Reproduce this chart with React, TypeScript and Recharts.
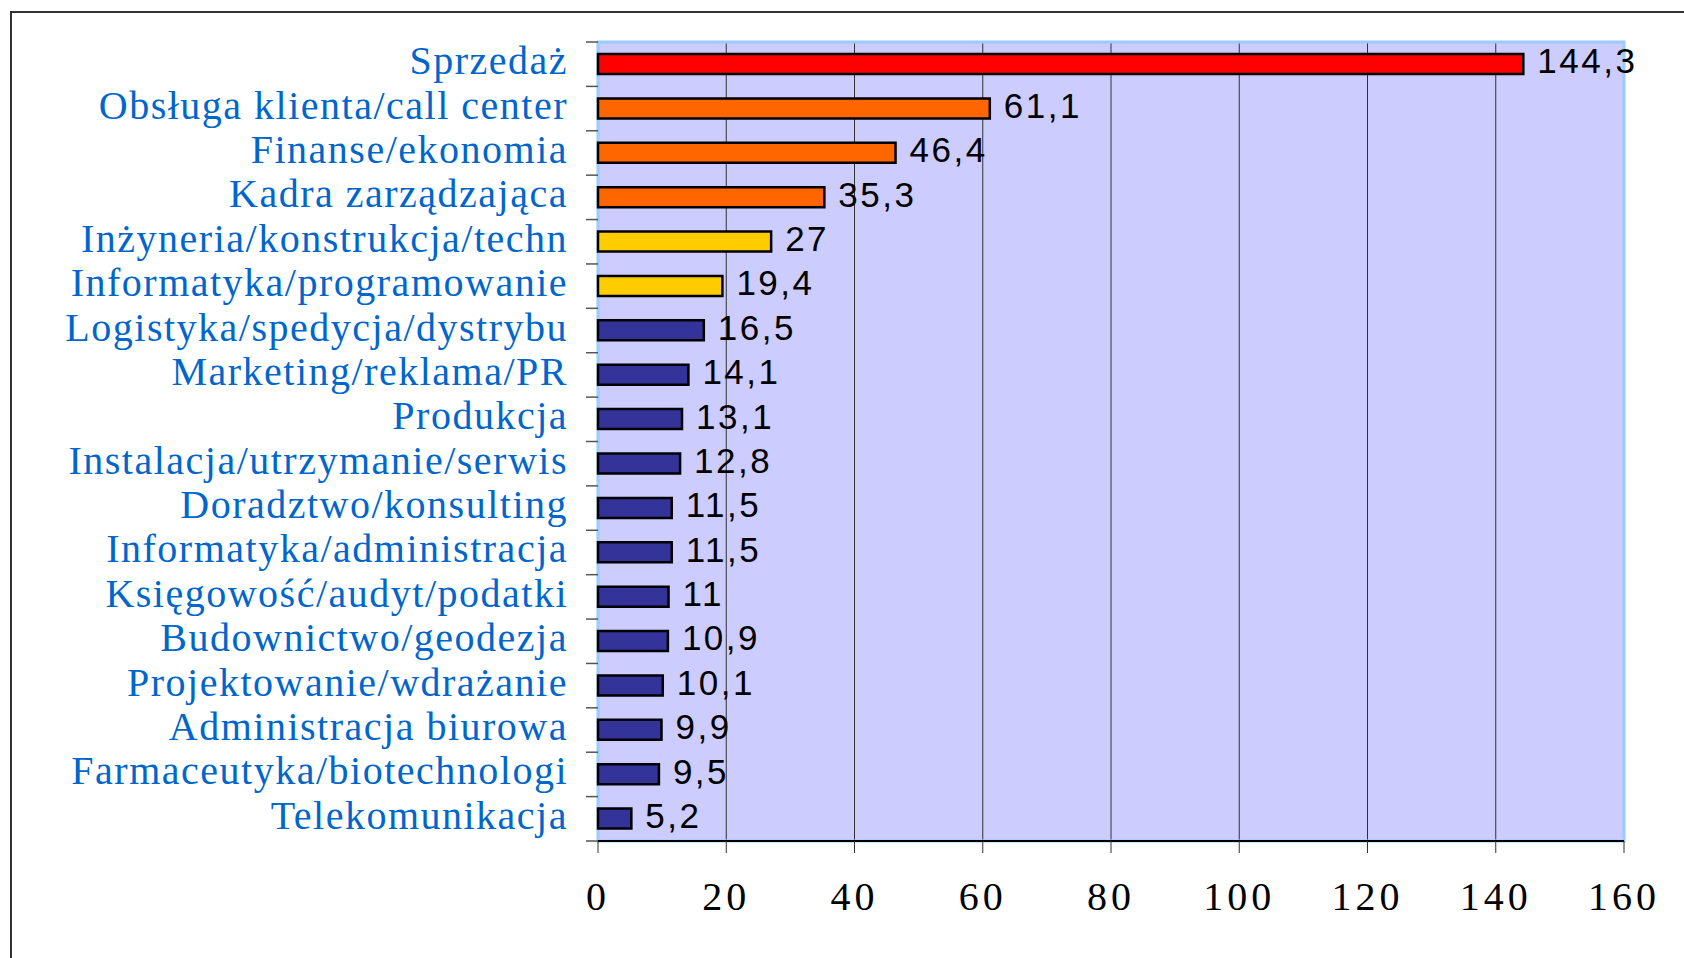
import { BarChart, Bar, XAxis, YAxis, CartesianGrid, Cell, LabelList, ReferenceArea } from 'recharts'

const categories = [
  'Sprzedaż',
  'Obsługa klienta/call center',
  'Finanse/ekonomia',
  'Kadra zarządzająca',
  'Inżyneria/konstrukcja/techn',
  'Informatyka/programowanie',
  'Logistyka/spedycja/dystrybu',
  'Marketing/reklama/PR',
  'Produkcja',
  'Instalacja/utrzymanie/serwis',
  'Doradztwo/konsulting',
  'Informatyka/administracja',
  'Księgowość/audyt/podatki',
  'Budownictwo/geodezja',
  'Projektowanie/wdrażanie',
  'Administracja biurowa',
  'Farmaceutyka/biotechnologi',
  'Telekomunikacja',
]

const values = [144.3, 61.1, 46.4, 35.3, 27, 19.4, 16.5, 14.1, 13.1, 12.8, 11.5, 11.5, 11, 10.9, 10.1, 9.9, 9.5, 5.2]

const xTicks = [0, 20, 40, 60, 80, 100, 120, 140, 160]

// colour groups: top one red, next three orange, two yellow, rest navy
const barColors = [
  '#ff0000',
  '#ff6600', '#ff6600', '#ff6600',
  '#ffcc00', '#ffcc00',
  '#333399', '#333399', '#333399', '#333399', '#333399', '#333399',
  '#333399', '#333399', '#333399', '#333399', '#333399', '#333399',
]

const W = 1684
const H = 958
const YAXIS_W = 598
const TOP = 42
const PLOT_BOTTOM = 841
const BAND = (PLOT_BOTTOM - TOP) / categories.length
const SERIF = "'Liberation Serif', 'Times New Roman', serif"

const data = categories.map((name, i) => ({ name, value: values[i] }))

const fmt = (v: any) => String(v).replace('.', ',')

function CategoryTick(props: any) {
  const { x, y, payload, index } = props
  return (
    <g>
      <line x1={YAXIS_W - 12} x2={YAXIS_W} y1={y - BAND / 2} y2={y - BAND / 2} stroke="#555" strokeWidth={1.5} />
      {index === categories.length - 1 && (
        <line x1={YAXIS_W - 12} x2={YAXIS_W} y1={y + BAND / 2} y2={y + BAND / 2} stroke="#555" strokeWidth={1.5} />
      )}
      <text
        x={x}
        y={y}
        dy={10}
        textAnchor="end"
        fill="#0066cc"
        fontFamily={SERIF}
        fontSize={40}
        letterSpacing={1.5}
      >
        {payload.value}
      </text>
    </g>
  )
}

export default function App() {
  return (
    <div style={{ position: 'absolute', left: 0, top: 0, width: W, height: H, background: '#fff', overflow: 'hidden' }}>
      <div
        style={{
          position: 'absolute',
          left: 10,
          top: 11,
          width: W,
          height: H,
          borderLeft: '2px solid #333',
          borderTop: '2px solid #333',
        }}
      />
      <div style={{ position: 'absolute', left: 0, top: 0 }}>
        <BarChart
          width={W}
          height={H}
          data={data}
          layout="vertical"
          margin={{ top: TOP, right: 60, bottom: 37, left: 0 }}
          barSize={20}
        >
          <CartesianGrid horizontal={false} stroke="#333" fill="#ccccff" verticalValues={xTicks.slice(1, -1)} />
          <XAxis
            type="number"
            domain={[0, 160]}
            ticks={xTicks}
            interval={0}
            height={80}
            tickSize={12}
            tickMargin={29}
            axisLine={{ stroke: '#000', strokeWidth: 2 }}
            tickLine={{ stroke: '#333' }}
            tick={{ fill: '#000', fontSize: 40, fontFamily: SERIF, letterSpacing: 4 }}
          />
          <YAxis
            type="category"
            dataKey="name"
            width={YAXIS_W}
            interval={0}
            axisLine={false}
            tickLine={false}
            tickSize={12}
            tickMargin={18}
            tick={<CategoryTick />}
          />
          <ReferenceArea
            x1={0}
            x2={160}
            y1={categories[0]}
            y2={categories[categories.length - 1]}
            fill="none"
            stroke="#99ccff"
            strokeWidth={3}
          />
          <Bar dataKey="value" stroke="#000" strokeWidth={2.5} isAnimationActive={false}>
            {data.map((d, i) => (
              <Cell key={d.name} fill={barColors[i]} />
            ))}
            <LabelList
              dataKey="value"
              position="right"
              offset={14}
              formatter={fmt}
              fill="#000"
              fontSize={35}
              fontFamily="'Liberation Sans', Arial, sans-serif"
              letterSpacing={2.5}
              dy={-3}
            />
          </Bar>
        </BarChart>
      </div>
    </div>
  )
}
